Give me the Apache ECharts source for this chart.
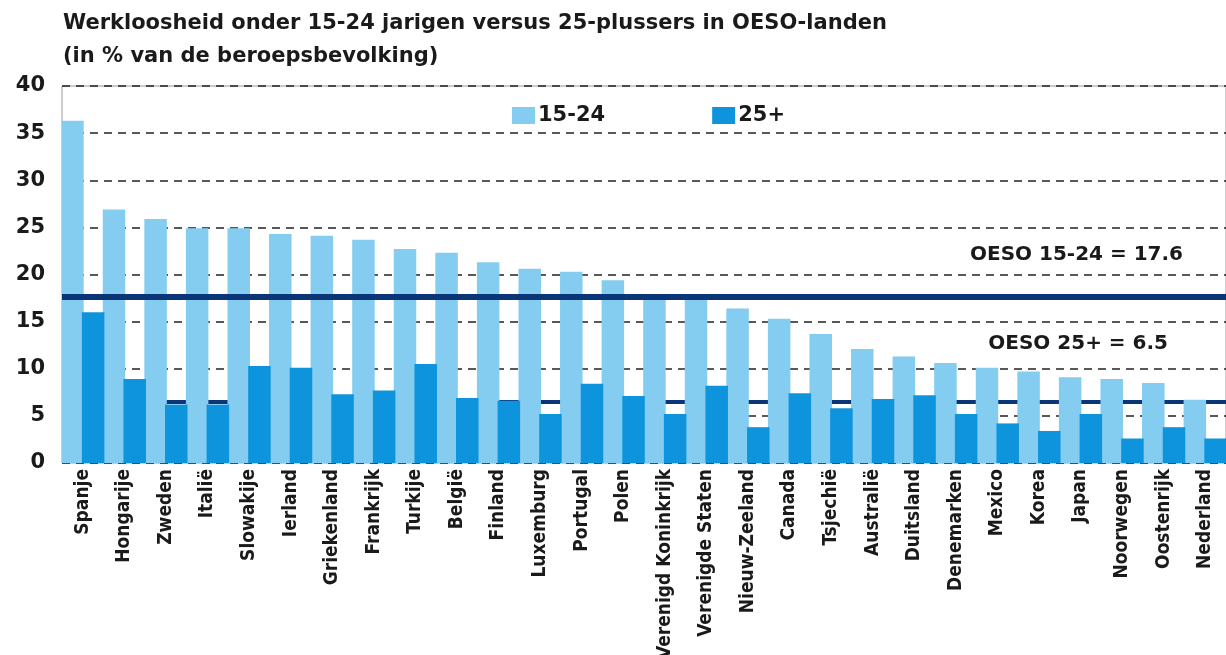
<!DOCTYPE html>
<html>
<head>
<meta charset="utf-8">
<script src="https://cdn.jsdelivr.net/npm/echarts@6/dist/echarts.min.js"></script>
<style>
html,body{margin:0;padding:0;background:#fff;}
#chart{width:1226px;height:655px;}
</style>
</head>
<body>
<div id="chart"></div>
<script>
const titleLine1 = 'Werkloosheid onder 15-24 jarigen versus 25-plussers in OESO-landen';
const titleLine2 = '(in % van de beroepsbevolking)';
const categories = ['Spanje','Hongarije','Zweden','Italië','Slowakije','Ierland','Griekenland','Frankrijk','Turkije','België','Finland','Luxemburg','Portugal','Polen','Verenigd Koninkrijk','Verenigde Staten','Nieuw-Zeeland','Canada','Tsjechië','Australië','Duitsland','Denemarken','Mexico','Korea','Japan','Noorwegen','Oostenrijk','Nederland'];
const seriesNames = ['15-24', '25+'];
const youth = [36.3, 26.9, 25.9, 24.9, 24.9, 24.3, 24.1, 23.7, 22.7, 22.3, 21.3, 20.6, 20.3, 19.4, 17.8, 17.6, 16.4, 15.3, 13.7, 12.1, 11.3, 10.6, 10.1, 9.7, 9.1, 8.9, 8.5, 6.7];
const adult = [16.0, 8.9, 6.2, 6.2, 10.3, 10.1, 7.3, 7.7, 10.5, 6.9, 6.6, 5.2, 8.4, 7.1, 5.2, 8.2, 3.8, 7.4, 5.8, 6.8, 7.2, 5.2, 4.2, 3.4, 5.2, 2.6, 3.8, 2.6];
const oesoYouth = 17.6;
const oesoAdult = 6.5;
const yTicks = {min: 0, max: 40, interval: 5};

const LIGHT = '#84ccf0', DARK = '#0d94dc', NAVY = '#0a3677', INK = '#1a1a1a';
const FONT = "'DejaVu Sans', Verdana, sans-serif";
const NARROW = "'Liberation Sans Narrow', 'DejaVu Sans Condensed', 'Arial Narrow', sans-serif";

const chart = echarts.init(document.getElementById('chart'), null, {renderer: 'canvas'});
chart.setOption({
  animation: false,
  backgroundColor: '#fff',
  title: [
    {text: titleLine1, left: 58, top: 8,
     textStyle: {fontFamily: FONT, fontWeight: 'bold', fontSize: 21, color: INK}},
    {text: titleLine2, left: 58, top: 41,
     textStyle: {fontFamily: FONT, fontWeight: 'bold', fontSize: 21, color: INK}}
  ],
  legend: {
    left: 507,
    top: 100,
    itemWidth: 23,
    itemHeight: 17,
    itemGap: 107,
    icon: 'rect',
    data: seriesNames,
    textStyle: {fontFamily: FONT, fontWeight: 'bold', fontSize: 21, color: INK, padding: [0, 0, 0, -2]}
  },
  grid: {
    left: 62, right: 0, top: 86, bottom: 192,
    outerBoundsMode: 'none', containLabel: false,
    show: true, borderColor: '#9a9a9a', borderWidth: 1, backgroundColor: 'transparent'
  },
  xAxis: {
    type: 'category',
    data: categories,
    axisLine: {show: false},
    axisTick: {show: false},
    axisLabel: {
      rotate: 90, interval: 0, margin: 6, padding: [0, 0, 8, 0],
      fontFamily: NARROW, fontWeight: 'bold', fontSize: 19, color: INK
    }
  },
  yAxis: {
    type: 'value',
    min: yTicks.min, max: yTicks.max, interval: yTicks.interval,
    axisLine: {show: false},
    axisTick: {show: false},
    axisLabel: {margin: 17, fontFamily: FONT, fontWeight: 'bold', fontSize: 21, color: INK},
    splitLine: {show: true, lineStyle: {color: '#222', width: 1.5, type: [8, 6]}}
  },
  series: [
    {
      name: seriesNames[0], type: 'bar', data: youth, z: 3,
      barWidth: 22.5, barGap: '-8%',
      itemStyle: {color: LIGHT},
      markLine: {
        silent: true, symbol: 'none', z: 6,
        label: {show: false},
        lineStyle: {color: NAVY, width: 6, type: 'solid'},
        data: [{yAxis: oesoYouth}]
      }
    },
    {
      name: seriesNames[1], type: 'bar', data: adult, z: 3,
      barWidth: 22.5,
      itemStyle: {color: DARK}
    },
    {
      name: 'OESO 25+', type: 'line', data: [], z: 1,
      markLine: {
        silent: true, symbol: 'none', z: 1,
        label: {show: false},
        lineStyle: {color: NAVY, width: 4, type: 'solid'},
        data: [{yAxis: oesoAdult}]
      }
    }
  ],
  graphic: [
    {
      type: 'text', right: 1226 - 1183, top: 245, z: 10,
      style: {text: 'OESO 15-24 = ' + oesoYouth, fontFamily: FONT, fontWeight: 'bold', fontSize: 20, fill: INK}
    },
    {
      type: 'text', right: 1226 - 1168, top: 334, z: 10,
      style: {text: 'OESO 25+ = ' + oesoAdult, fontFamily: FONT, fontWeight: 'bold', fontSize: 20, fill: INK}
    }
  ]
});
</script>
</body>
</html>
